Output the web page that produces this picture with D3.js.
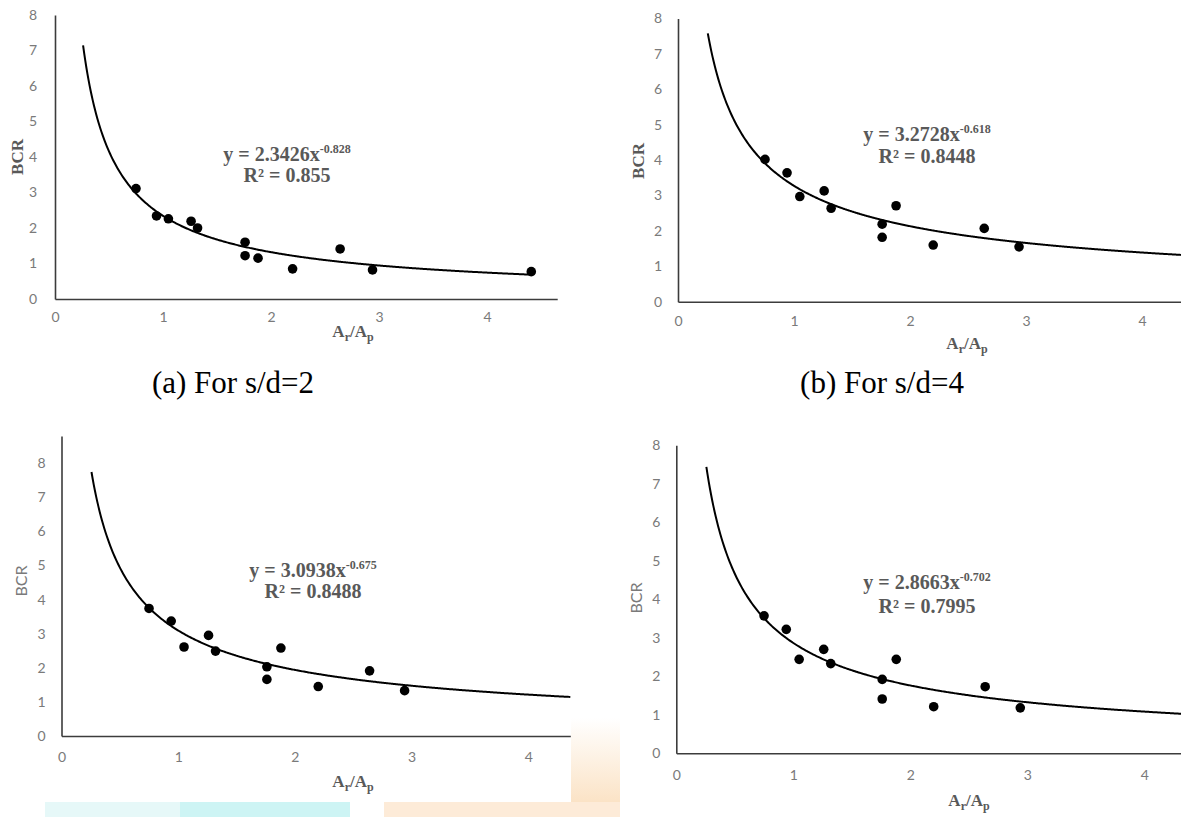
<!DOCTYPE html>
<html>
<head>
<meta charset="utf-8">
<script src="https://cdn.jsdelivr.net/npm/d3@7"></script>
<style>
  body { margin: 0; background: #fff; }
  svg { display: block; }
</style>
</head>
<body>
<div id="chart"></div>
<script>
// Ar/Ap values (same specimens in every panel, panel a has one more)
const areaRatio = [0.75, 0.94, 1.05, 1.26, 1.32, 1.76, 1.76, 1.88, 2.2, 2.64, 2.94];
const areaRatioA = [0.75, 0.94, 1.05, 1.26, 1.32, 1.76, 1.76, 1.88, 2.2, 2.64, 2.94, 4.41];

// BCR
const bcrA = [3.11, 2.34, 2.26, 2.19, 2.0, 1.6, 1.22, 1.15, 0.85, 1.41, 0.82, 0.77];
const bcrB = [4.02, 3.64, 2.97, 3.13, 2.64, 2.19, 1.82, 2.71, 1.6, 2.07, 1.55];
const bcrC = [3.74, 3.37, 2.61, 2.95, 2.49, 2.03, 1.66, 2.58, 1.45, 1.91, 1.33];
const bcrD = [3.57, 3.22, 2.44, 2.70, 2.33, 1.92, 1.41, 2.44, 1.21, 1.73, 1.18];

// power trendlines y = coef * x^exp, with R²
const coefs = [2.3426, 3.2728, 3.0938, 2.8663];
const exps = [-0.828, -0.618, -0.675, -0.702];
const rSquared = ['0.855', '0.8448', '0.8488', '0.7995'];
const trendStart = [0.26, 0.257, 0.257, 0.257];
const trendEnd = [4.41, 4.34, 4.36, 4.33];

const yTicks = [0, 1, 2, 3, 4, 5, 6, 7, 8];
const xTicks = [0, 1, 2, 3, 4];
const captions = ['(a) For s/d=2', '(b) For s/d=4'];

const W = 1181, H = 817;
const serif = '"Liberation Serif", "Times New Roman", serif';
const sans = 'Lato, "Liberation Sans", sans-serif';
const textGrey = '#595959';

// where each panel sits on the page
const panels = [
  { xs: areaRatioA, ys: bcrA, left: 55, unitX: 108, xMax: 4.65, zero: 299, unitY: 35.5, yMax: 8,
    padY: 18, padX: 13, eqX: 287, eqY: [161, 182], titleX: 353, titleY: 337,
    bcr: [17, 157], bcrBold: true },
  { xs: areaRatio, ys: bcrB, left: 678, unitX: 116, xMax: 4.34, zero: 301.7, unitY: 35.4, yMax: 8,
    padY: 16, padX: 14, eqX: 927, eqY: [141, 163], titleX: 967, titleY: 349,
    bcr: [638, 161], bcrBold: true },
  { xs: areaRatio, ys: bcrC, left: 61.5, unitX: 116.7, xMax: 4.36, zero: 736, unitY: 34.1, yMax: 8.8,
    padY: 16, padX: 16, eqX: 313, eqY: [577, 598], titleX: 353, titleY: 787,
    bcr: [21, 581], bcrBold: false },
  { xs: areaRatio, ys: bcrD, left: 676.3, unitX: 117, xMax: 4.33, zero: 753.3, unitY: 38.5, yMax: 8,
    padY: 16, padX: 17, eqX: 927, eqY: [589, 613], titleX: 969, titleY: 806,
    bcr: [636, 598], bcrBold: false }
];

const svg = d3.select('#chart').append('svg')
  .attr('width', W)
  .attr('height', H);

// faint scanned-page smudges along the bottom edge
const fade = svg.append('defs').append('linearGradient')
  .attr('id', 'fade').attr('x1', 0).attr('y1', 1).attr('x2', 0).attr('y2', 0);
fade.append('stop').attr('offset', '0%').attr('stop-color', '#fbe3c6');
fade.append('stop').attr('offset', '100%').attr('stop-color', '#fff');

const smudge = svg.append('g').attr('class', 'smudge');
smudge.append('rect').attr('x', 45).attr('y', 802).attr('width', 135).attr('height', 15).attr('fill', '#e6f8f8');
smudge.append('rect').attr('x', 180).attr('y', 802).attr('width', 170).attr('height', 15).attr('fill', '#cdf4f4');
smudge.append('rect').attr('x', 384).attr('y', 802).attr('width', 236).attr('height', 15).attr('fill', '#fdebd8');
smudge.append('rect').attr('x', 571).attr('y', 718).attr('width', 49).attr('height', 84).attr('fill', 'url(#fade)');

function drawPanel(p, i) {
  const g = svg.append('g').attr('class', 'panel panel-' + i);

  const x = d3.scaleLinear()
    .domain([0, p.xMax])
    .range([p.left, p.left + p.xMax * p.unitX]);
  const y = d3.scaleLinear()
    .domain([0, p.yMax])
    .range([p.zero, p.zero - p.yMax * p.unitY]);

  const yAxis = g.append('g')
    .attr('transform', `translate(${p.left},0)`)
    .call(d3.axisLeft(y).tickValues(yTicks).tickFormat(d3.format('d')).tickSize(0).tickPadding(p.padY));
  const xAxis = g.append('g')
    .attr('transform', `translate(0,${p.zero})`)
    .call(d3.axisBottom(x).tickValues(xTicks).tickFormat(d3.format('d')).tickSize(0).tickPadding(p.padX));

  [yAxis, xAxis].forEach(ax => {
    ax.select('.domain').attr('stroke', '#3c3c3c').attr('stroke-width', 1.6);
    ax.selectAll('text')
      .attr('fill', '#7a7a7a')
      .style('font-family', sans)
      .style('font-size', '14px');
  });

  // trendline from the fitted equation
  const tx = d3.range(trendStart[i], trendEnd[i], 0.01).concat([trendEnd[i]]);
  const line = d3.line()
    .x(d => x(d))
    .y(d => y(coefs[i] * Math.pow(d, exps[i])))
    .curve(d3.curveMonotoneX);
  g.append('path')
    .datum(tx)
    .attr('d', line)
    .attr('fill', 'none')
    .attr('stroke', '#000')
    .attr('stroke-width', 2);

  g.selectAll('circle.pt')
    .data(p.xs.map((v, k) => [v, p.ys[k]]))
    .join('circle')
    .attr('class', 'pt')
    .attr('cx', d => x(d[0]))
    .attr('cy', d => y(d[1]))
    .attr('r', 4.8)
    .attr('fill', '#000');

  // equation + R²
  const eq = g.append('text')
    .attr('x', p.eqX)
    .attr('y', p.eqY[0])
    .attr('text-anchor', 'middle')
    .attr('fill', textGrey)
    .style('font-family', serif)
    .style('font-weight', 'bold')
    .style('font-size', '20px');
  eq.append('tspan').text(`y = ${coefs[i]}x`);
  eq.append('tspan')
    .attr('dy', -8)
    .style('font-size', '12px')
    .text(exps[i]);

  g.append('text')
    .attr('x', p.eqX)
    .attr('y', p.eqY[1])
    .attr('text-anchor', 'middle')
    .attr('fill', textGrey)
    .style('font-family', serif)
    .style('font-weight', 'bold')
    .style('font-size', '20px')
    .text(`R² = ${rSquared[i]}`);

  // y axis title
  g.append('text')
    .attr('transform', `translate(${p.bcr[0]},${p.bcr[1]}) rotate(-90)`)
    .attr('text-anchor', 'middle')
    .attr('dy', '0.35em')
    .attr('fill', p.bcrBold ? textGrey : '#7a7a7a')
    .style('font-family', p.bcrBold ? serif : sans)
    .style('font-weight', p.bcrBold ? 'bold' : 'normal')
    .style('font-size', p.bcrBold ? '17px' : '16px')
    .text('BCR');

  // x axis title Ar/Ap
  const xt = g.append('text')
    .attr('x', p.titleX)
    .attr('y', p.titleY)
    .attr('text-anchor', 'middle')
    .attr('fill', textGrey)
    .style('font-family', serif)
    .style('font-weight', 'bold')
    .style('font-size', '17px');
  xt.append('tspan').text('A');
  xt.append('tspan').attr('dy', 4).style('font-size', '12px').text('r');
  xt.append('tspan').attr('dy', -4).text('/A');
  xt.append('tspan').attr('dy', 4).style('font-size', '12px').text('p');
}

panels.forEach(drawPanel);

// sub-figure captions
svg.selectAll('text.caption')
  .data(captions)
  .join('text')
  .attr('class', 'caption')
  .attr('x', (d, k) => k === 0 ? 233 : 882)
  .attr('y', 393)
  .attr('text-anchor', 'middle')
  .attr('fill', '#000')
  .style('font-family', serif)
  .style('font-size', '31px')
  .text(d => d);
</script>
</body>
</html>
